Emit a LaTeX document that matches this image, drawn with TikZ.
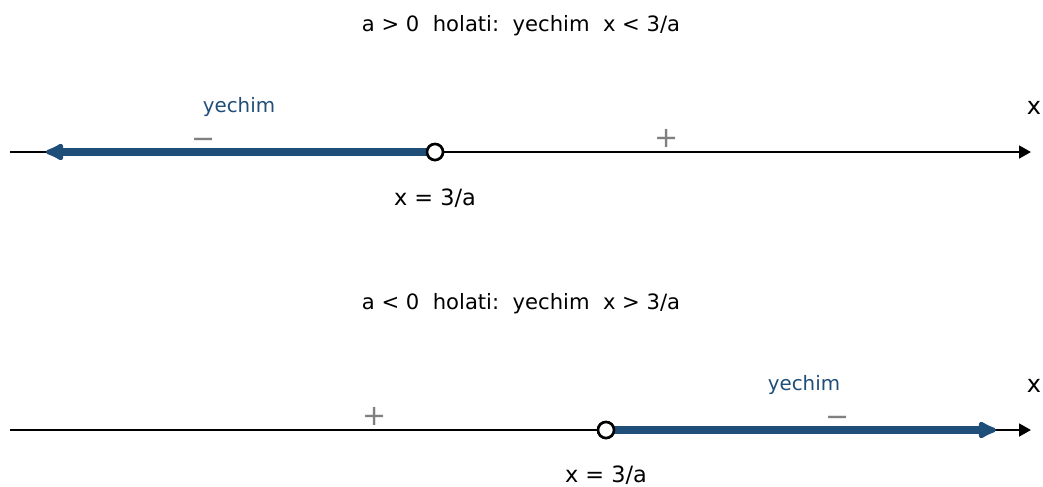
\documentclass[tikz,border=0pt]{standalone}
\usepackage{fontspec}
\setmainfont{DejaVu Sans}
\usetikzlibrary{arrows.meta}
\definecolor{SolB}{HTML}{1F4E79}
\definecolor{SgnG}{HTML}{808080}
\tikzset{
  axis/.style={
    -{Triangle[length=7.5pt,width=8pt]},
    line width=1.5pt, color=black,
  },
  sol/.style={
    -{Latex[length=14pt,width=13pt,round]},
    line width=4.4pt, color=SolB,
  },
  hole/.style={
    circle, draw=black, fill=white, line width=1.6pt,
    minimum size=10pt, inner sep=0pt,
  },
  ttl/.style={font=\fontsize{13.2}{15}\selectfont, text=black},
  lbl/.style={font=\fontsize{14}{16}\selectfont, text=black},
  sollbl/.style={font=\fontsize{12.4}{14}\selectfont, text=SolB},
  sgn/.style={font=\fontsize{18}{20}\selectfont, text=SgnG},
  xlbl/.style={font=\fontsize{15}{17}\selectfont, text=black},
}
\begin{document}
\begin{tikzpicture}[x=0.625pt,y=-0.625pt]
  \useasboundingbox (0,0) rectangle (1043,486);

  % a > 0
  \node[ttl] (T1) at (521,26) {a > 0\ \ holati:\ \ yechim\ \ x < 3/a};
  \coordinate (A1L) at (10,152);
  \coordinate (A1R) at (1031,152);
  \coordinate (S1E) at (46,152);
  \draw[axis] (A1L) -- (A1R);
  \node[hole] (H1) at (435,152) {};
  \draw[sol] (H1.center) -- (S1E);
  \node[hole] at (H1) {};
  \node[lbl] (L1) at (435,198) {x = 3/a};
  \node[sollbl] (Y1) at (239,107) {yechim};
  \node[sgn] (M1) at (204,143) {−};
  \node[sgn] (P1) at (667,138) {+};
  \node[xlbl] (X1) at (1034,108) {x};

  % a < 0
  \node[ttl] (T2) at (521,304) {a < 0\ \ holati:\ \ yechim\ \ x > 3/a};
  \coordinate (A2L) at (10,430);
  \coordinate (A2R) at (1031,430);
  \coordinate (S2E) at (996,430);
  \draw[axis] (A2L) -- (A2R);
  \node[hole] (H2) at (606,430) {};
  \draw[sol] (H2.center) -- (S2E);
  \node[hole] at (H2) {};
  \node[lbl] (L2) at (606,475) {x = 3/a};
  \node[sollbl] (Y2) at (804,385) {yechim};
  \node[sgn] (M2) at (838,421) {−};
  \node[sgn] (P2) at (375,416) {+};
  \node[xlbl] (X2) at (1034,386) {x};

\end{tikzpicture}
\end{document}
